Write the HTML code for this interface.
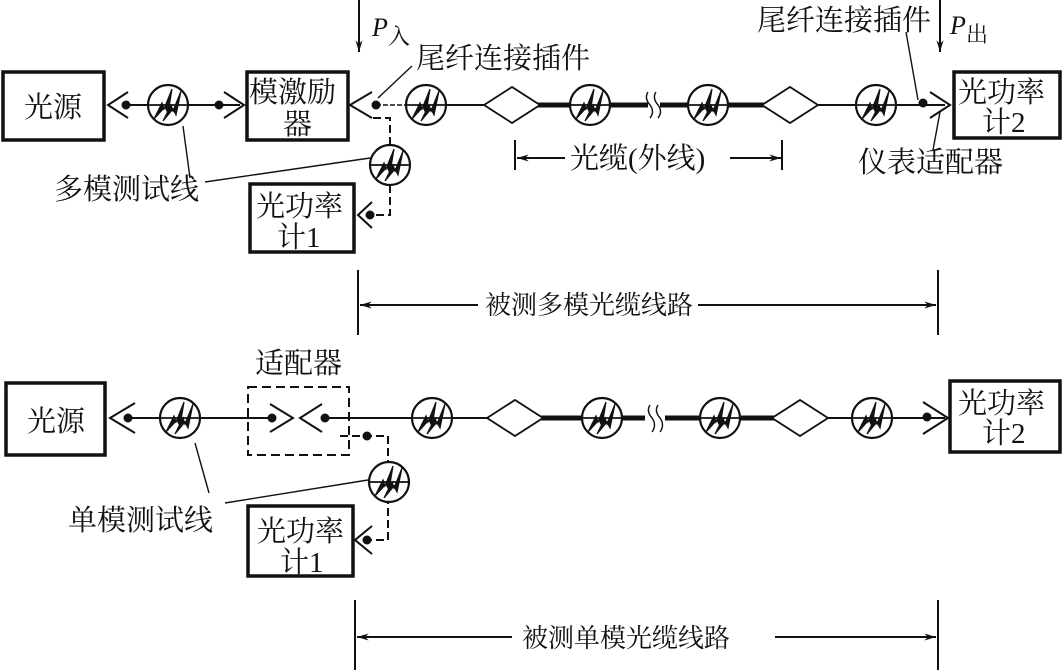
<!DOCTYPE html>
<html><head><meta charset="utf-8"><style>
html,body{margin:0;padding:0;background:#fff;width:1063px;height:670px;overflow:hidden}
svg text{font-family:"Liberation Serif","Noto Serif CJK SC","Noto Sans CJK SC",serif;fill:#111}
</style></head><body>
<svg width="1063" height="670" viewBox="0 0 1063 670" xmlns="http://www.w3.org/2000/svg">
<defs>
<g id="cir">
<circle r="20" fill="#fff" stroke="#111" stroke-width="2.2"/>
<path d="M-14,14 L-6,-2 L-4,4 L4,-16 L0,8 L-3,2 Z" fill="#111" stroke="#111" stroke-width="1.2"/>
<path d="M-5,16 L3,0 L5,6 L13,-14 L8,10 L5,4 Z" fill="#111" stroke="#111" stroke-width="1.2"/>
<line x1="-20" y1="0" x2="20" y2="0" stroke="#111" stroke-width="1.8"/>
</g>
<g id="dia"><path d="M-28,0 L0,-18 L28,0 L0,18 Z" fill="#fff" stroke="#111" stroke-width="1.8"/></g>
<marker id="ar" viewBox="0 0 10 6" refX="10" refY="3" markerWidth="16" markerHeight="7" markerUnits="userSpaceOnUse" orient="auto"><path d="M0,0 L10,3 L0,6 L3,3Z" fill="#111"/></marker>
</defs>
<g stroke="#111" fill="none" stroke-width="2">
<!-- TOP -->
<rect x="3" y="72" width="101" height="68" stroke-width="3.5"/>
<rect x="247" y="72" width="101" height="68" stroke-width="3.5"/>
<rect x="250" y="184" width="104" height="68" stroke-width="3.5"/>
<rect x="954" y="72" width="106" height="66" stroke-width="3.5"/>
<line x1="125" y1="105" x2="240" y2="105"/>
<path d="M128,92 L108,105 L128,118"/>
<path d="M224,92 L244,105 L224,118"/>
<circle cx="126" cy="105" r="3.5" fill="#111"/><circle cx="219" cy="105" r="3.5" fill="#111"/>
<path d="M372,92 L350,105 L372,118"/>
<circle cx="376" cy="105" r="3.5" fill="#111"/>
<line x1="376" y1="105" x2="410" y2="105" stroke-dasharray="5,2" stroke-width="1.4"/>
<line x1="440" y1="105" x2="484" y2="105"/>
<line x1="530" y1="105" x2="648" y2="105" stroke-width="5"/>
<line x1="660" y1="105" x2="765" y2="105" stroke-width="5"/>
<path d="M648,92 Q644,98 650,105 Q655,112 650,118 M656,92 Q652,98 658,105 Q663,112 658,118" stroke-width="1.4"/>
<line x1="818" y1="105" x2="945" y2="105"/>
<circle cx="923" cy="103" r="3.5" fill="#111"/>
<path d="M930,92 L950,105 L930,118"/>
<path d="M373,118 L390,118 L390,215 L372,215" stroke-dasharray="8,4"/>
<circle cx="370" cy="215" r="3.5" fill="#111"/>
<path d="M372,202 L358,215 L372,228"/>
<line x1="359" y1="0" x2="359" y2="52" marker-end="url(#ar)"/>
<line x1="940" y1="0" x2="940" y2="52" marker-end="url(#ar)"/>
<line x1="378" y1="98" x2="412" y2="66" stroke-width="1.4"/>
<line x1="918" y1="100" x2="906" y2="32" stroke-width="1.4"/>
<line x1="940" y1="112" x2="933" y2="150" stroke-width="1.4"/>
<line x1="183" y1="126" x2="190" y2="178" stroke-width="1.4"/>
<line x1="205" y1="182" x2="370" y2="158" stroke-width="1.4"/>
<line x1="515" y1="140" x2="515" y2="170"/>
<line x1="782" y1="140" x2="782" y2="170"/>
<line x1="565" y1="158" x2="517" y2="158" marker-end="url(#ar)"/>
<line x1="730" y1="158" x2="781" y2="158" marker-end="url(#ar)"/>
<line x1="358" y1="270" x2="358" y2="335"/>
<line x1="938" y1="270" x2="938" y2="335"/>
<line x1="478" y1="305" x2="360" y2="305" marker-end="url(#ar)"/>
<line x1="698" y1="305" x2="936" y2="305" marker-end="url(#ar)"/>
<!-- BOTTOM -->
<rect x="6" y="383" width="99" height="72" stroke-width="3.5"/>
<rect x="248" y="387" width="101" height="68" stroke-dasharray="9,5"/>
<rect x="248" y="506" width="105" height="70" stroke-width="3.5"/>
<rect x="950" y="381" width="110" height="71" stroke-width="3.5"/>
<line x1="125" y1="418" x2="272" y2="418"/>
<path d="M135,403 L110,418 L135,433"/>
<circle cx="128" cy="418" r="3.5" fill="#111"/>
<circle cx="272" cy="418" r="3.5" fill="#111"/>
<path d="M270,404 L293,418 L270,432"/>
<path d="M322,404 L300,418 L322,432"/>
<circle cx="325" cy="418" r="3.5" fill="#111"/>
<line x1="325" y1="418" x2="487" y2="418"/>
<line x1="540" y1="418" x2="645" y2="418" stroke-width="5"/>
<line x1="665" y1="418" x2="775" y2="418" stroke-width="5"/>
<path d="M650,405 Q646,411 652,418 Q657,425 652,432 M658,405 Q654,411 660,418 Q665,425 660,432" stroke-width="1.4"/>
<line x1="828" y1="418" x2="945" y2="418"/>
<circle cx="927" cy="417" r="3.5" fill="#111"/>
<path d="M923,402 L948,418 L923,434"/>
<path d="M340,436 L388,436 L388,540 L367,540" stroke-dasharray="8,4"/>
<circle cx="367" cy="436" r="3.5" fill="#111"/>
<circle cx="367" cy="540" r="3.5" fill="#111"/>
<path d="M372,526 L355,540 L372,554"/>
<line x1="195" y1="443" x2="209" y2="493" stroke-width="1.4"/>
<line x1="225" y1="503" x2="368" y2="480" stroke-width="1.4"/>
<line x1="355" y1="600" x2="355" y2="670"/>
<line x1="938" y1="600" x2="938" y2="670"/>
<line x1="512" y1="637" x2="357" y2="637" marker-end="url(#ar)"/>
<line x1="775" y1="637" x2="936" y2="637" marker-end="url(#ar)"/>
</g>
<use href="#cir" x="168" y="105"/>
<use href="#cir" x="426" y="105"/>
<use href="#dia" x="512" y="105"/>
<use href="#cir" x="590" y="105"/>
<use href="#cir" x="708" y="105"/>
<use href="#dia" x="790" y="105"/>
<use href="#cir" x="876" y="105"/>
<use href="#cir" x="390" y="165"/>
<use href="#cir" x="180" y="418"/>
<use href="#cir" x="432" y="418"/>
<use href="#dia" x="515" y="418"/>
<use href="#cir" x="602" y="418"/>
<use href="#cir" x="720" y="418"/>
<use href="#dia" x="800" y="418"/>
<use href="#cir" x="872" y="418"/>
<use href="#cir" x="389" y="482"/>
<g font-size="29">
<text x="24" y="117">光源</text>
<text x="249" y="102">模激励</text><text x="283" y="134">器</text>
<text x="256" y="216">光功率</text><text x="277" y="247">计1</text>
<text x="958" y="102">光功率</text><text x="982" y="132">计2</text>
<text x="416" y="68">尾纤连接插件</text>
<text x="757" y="30">尾纤连接插件</text>
<text x="858" y="172">仪表适配器</text>
<text x="54" y="199">多模测试线</text>
<text x="570" y="168">光缆(外线)</text>
<text x="27" y="431">光源</text>
<text x="255" y="373">适配器</text>
<text x="257" y="541">光功率</text><text x="280" y="572">计1</text>
<text x="958" y="413">光功率</text><text x="982" y="443">计2</text>
<text x="68" y="530">单模测试线</text>
</g>
<g font-size="26">
<text x="485" y="314">被测多模光缆线路</text>
<text x="522" y="647">被测单模光缆线路</text>
</g>
<text x="372" y="36" font-size="26" font-style="italic">P</text><text x="388" y="44" font-size="22">入</text>
<text x="950" y="34" font-size="26" font-style="italic">P</text><text x="966" y="42" font-size="22">出</text>
</svg>
</body></html>
